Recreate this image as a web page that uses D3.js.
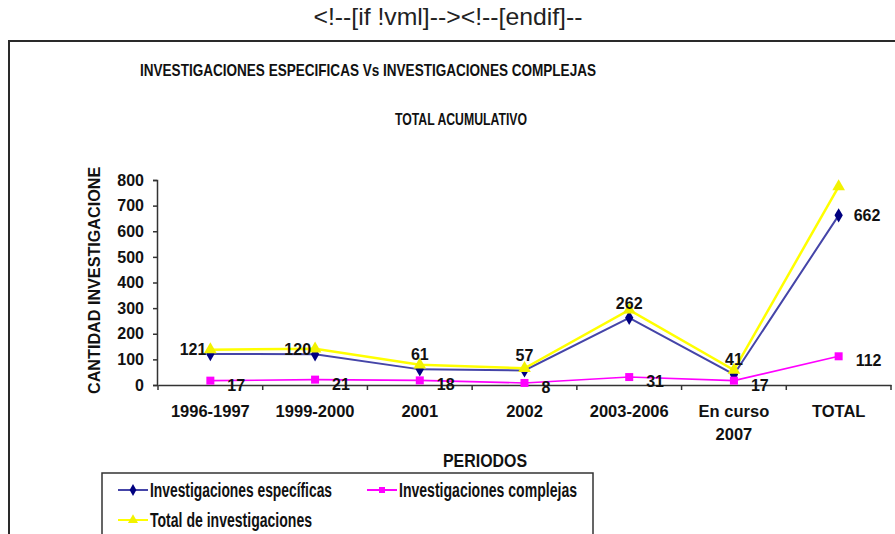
<!DOCTYPE html>
<html>
<head>
<meta charset="utf-8">
<script src="https://cdn.jsdelivr.net/npm/d3@7"></script>
<style>
  html, body { margin: 0; padding: 0; background: #fff; }
  svg { display: block; }
  text { font-family: "Liberation Sans", Arial, sans-serif; }
</style>
</head>
<body>
<svg id="chart" width="895" height="534"></svg>
<script>
// ---- data ----
const categories = ["1996-1997", "1999-2000", "2001", "2002", "2003-2006", "En curso\n2007", "TOTAL"];
const especificas = [121, 120, 61, 57, 262, 41, 662];
const complejas = [17, 21, 18, 8, 31, 17, 112];
const totales = [138, 141, 79, 65, 293, 58, 774];
const yTicks = [0, 100, 200, 300, 400, 500, 600, 700, 800];
const especificasLabelSide = ["left", "left", "top", "top", "top", "top", "right"];
const seriesNames = ["Investigaciones específicas", "Investigaciones complejas", "Total de investigaciones"];

const svg = d3.select("#chart");

// header text
svg.append("text").attr("x", 448).attr("y", 25).attr("text-anchor", "middle")
  .attr("font-size", 24).attr("fill", "#222")
  .attr("textLength", 269).attr("lengthAdjust", "spacingAndGlyphs")
  .text("<!--[if !vml]--><!--[endif]--");

// frame
svg.append("path").attr("d", "M9,540 L9,41 L900,41").attr("fill", "none")
  .attr("stroke", "#2a2a2a").attr("stroke-width", 2);

// titles
svg.append("text").attr("x", 368).attr("y", 76).attr("text-anchor", "middle")
  .attr("font-size", 17).attr("font-weight", "bold").attr("fill", "#111")
  .attr("textLength", 456).attr("lengthAdjust", "spacingAndGlyphs")
  .text("INVESTIGACIONES ESPECIFICAS Vs INVESTIGACIONES COMPLEJAS");
svg.append("text").attr("x", 461).attr("y", 125).attr("text-anchor", "middle")
  .attr("font-size", 17).attr("font-weight", "bold").attr("fill", "#111")
  .attr("textLength", 132).attr("lengthAdjust", "spacingAndGlyphs")
  .text("TOTAL ACUMULATIVO");

// scales
const x = d3.scaleBand().domain(categories).range([158, 891]);
const y = d3.scaleLinear().domain([0, 800]).range([385, 180]);
const cx = c => x(c) + x.bandwidth() / 2;

// y axis
const yAxis = svg.append("g").attr("transform", "translate(157,0)")
  .call(d3.axisLeft(y).tickValues(yTicks).tickSize(4).tickPadding(9).tickFormat(d3.format("d")));
yAxis.select(".domain").attr("stroke", "#333").attr("stroke-width", 1.5);
yAxis.selectAll(".tick line").attr("stroke", "#333").attr("stroke-width", 1.5);
yAxis.selectAll(".tick text").attr("font-size", 16).attr("font-weight", "bold")
  .attr("fill", "#111").attr("font-family", "'Liberation Sans', Arial, sans-serif");

// x axis
const xAxis = svg.append("g").attr("transform", "translate(0,385)")
  .call(d3.axisBottom(x).tickSize(0).tickPadding(0).tickFormat(""));
xAxis.select(".domain").attr("stroke", "#333").attr("stroke-width", 1.5);
const bounds = categories.map(c => x(c)).concat([x.range()[1]]);
svg.append("g").selectAll("line").data(bounds).join("line")
  .attr("x1", d => d).attr("x2", d => d).attr("y1", 385).attr("y2", 390)
  .attr("stroke", "#333").attr("stroke-width", 1.5);
const xl = svg.append("g");
categories.forEach(c => {
  const t = xl.append("text").attr("x", cx(c)).attr("y", 417).attr("text-anchor", "middle")
    .attr("font-size", 16.5).attr("font-weight", "bold").attr("fill", "#111");
  c.split("\n").forEach((part, i) => {
    t.append("tspan").attr("x", cx(c)).attr("dy", i === 0 ? 0 : 23).text(part);
  });
});

// axis titles
svg.append("text").attr("x", 485).attr("y", 467).attr("text-anchor", "middle")
  .attr("font-size", 18).attr("font-weight", "bold").attr("fill", "#111")
  .attr("textLength", 84).attr("lengthAdjust", "spacingAndGlyphs").text("PERIODOS");

svg.append("clipPath").attr("id", "yclip").append("rect")
  .attr("x", 70).attr("y", 166).attr("width", 40).attr("height", 240);
svg.append("g").attr("clip-path", "url(#yclip)")
  .append("text").attr("transform", "translate(99.5,394) rotate(-90)")
  .attr("font-size", 16.5).attr("font-weight", "bold").attr("fill", "#111")
  .attr("textLength", 238).attr("lengthAdjust", "spacingAndGlyphs")
  .text("CANTIDAD INVESTIGACIONES");

// lines
const line = vals => d3.line().x((d, i) => cx(categories[i])).y(d => y(d))(vals);

function drawSeries(vals, stroke, width, marker, fill) {
  svg.append("path").attr("d", line(vals)).attr("fill", "none")
    .attr("stroke", stroke).attr("stroke-width", width);
  svg.append("g").selectAll("path").data(vals).join("path")
    .attr("transform", (d, i) => `translate(${cx(categories[i])},${y(d)})`)
    .attr("d", marker).attr("fill", fill);
}
const diamond = d3.symbol(d3.symbolDiamond, 60)();
const square = d3.symbol(d3.symbolSquare, 64)();
const triangle = d3.symbol(d3.symbolTriangle, 70)();

drawSeries(especificas, "#4545a8", 2, diamond, "#000080");
drawSeries(complejas, "#ff00ff", 1.6, square, "#ff00ff");
drawSeries(totales, "#ffff00", 2.5, triangle, "#f2f200");

// data labels
const lab = svg.append("g").attr("font-size", 16).attr("font-weight", "bold").attr("fill", "#111");
especificas.forEach((v, i) => {
  const px = cx(categories[i]), py = y(v);
  const side = especificasLabelSide[i];
  const t = lab.append("text").text(v);
  if (side === "left") t.attr("x", px - 4).attr("y", py + 1).attr("text-anchor", "end");
  else if (side === "right") t.attr("x", px + 15).attr("y", py + 6).attr("text-anchor", "start");
  else t.attr("x", px).attr("y", py - 9).attr("text-anchor", "middle");
});
complejas.forEach((v, i) => {
  const px = cx(categories[i]), py = y(v);
  lab.append("text").text(v).attr("x", px + 17).attr("y", py + 10).attr("text-anchor", "start");
});

// legend
svg.append("rect").attr("x", 102).attr("y", 473).attr("width", 491).attr("height", 80)
  .attr("fill", "none").attr("stroke", "#333").attr("stroke-width", 1.5);
const legendItems = [
  { name: seriesNames[0], color: "#4545a8", mfill: "#000080", marker: d3.symbol(d3.symbolDiamond, 40)(), lx: 118, ly: 490, len: 182 },
  { name: seriesNames[1], color: "#ff00ff", mfill: "#ff00ff", marker: d3.symbol(d3.symbolSquare, 36)(), lx: 367, ly: 490, len: 178 },
  { name: seriesNames[2], color: "#ffff00", mfill: "#f2f200", marker: d3.symbol(d3.symbolTriangle, 44)(), lx: 118, ly: 520, len: 162 }
];
legendItems.forEach(it => {
  const g = svg.append("g");
  g.append("line").attr("x1", it.lx).attr("x2", it.lx + 30).attr("y1", it.ly).attr("y2", it.ly)
    .attr("stroke", it.color).attr("stroke-width", 2);
  g.append("path").attr("transform", `translate(${it.lx + 15},${it.ly})`).attr("d", it.marker).attr("fill", it.mfill);
  g.append("text").attr("x", it.lx + 32).attr("y", it.ly + 7).attr("font-size", 20).attr("font-weight", "bold")
    .attr("fill", "#111").attr("textLength", it.len).attr("lengthAdjust", "spacingAndGlyphs").text(it.name);
});
</script>
</body>
</html>
